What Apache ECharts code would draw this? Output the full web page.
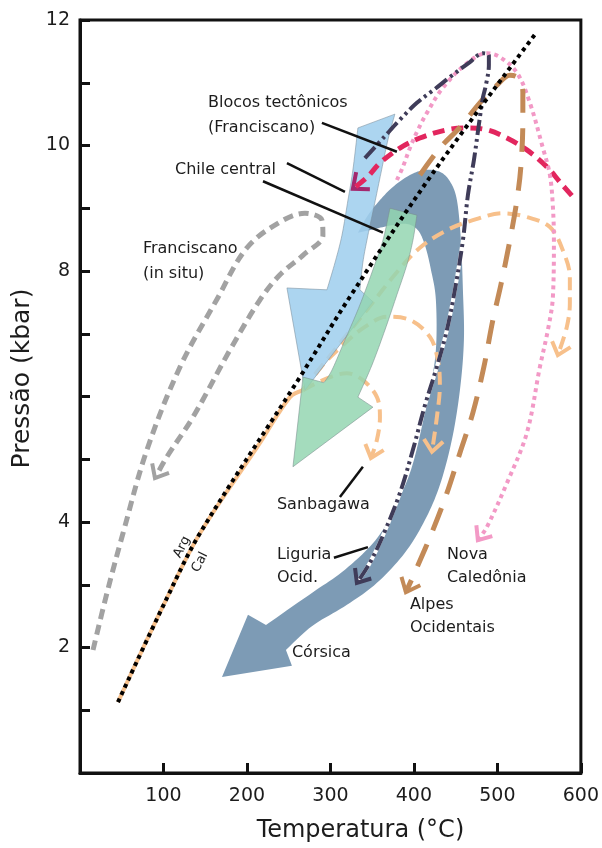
<!DOCTYPE html>
<html>
<head>
<meta charset="utf-8">
<script src="https://cdn.jsdelivr.net/npm/echarts@6/dist/echarts.min.js"></script>
<style>
  html, body { margin: 0; padding: 0; background: #fff; }
  #chart { width: 602px; height: 848px; }
</style>
</head>
<body>
<div id="chart"></div>
<script>
// Trajetórias P–T de cinturões de alta pressão (T em °C, P em kbar)

const xTickLabels = [100, 200, 300, 400, 500, 600];
const yTickLabels = [2, 4, 8, 10, 12];

// Curva aragonita / calcita
const argCal = [[45.5,1.13],[104.2,2.79],[143.7,3.82],[263.5,6.31],[323.4,7.59],[422.7,9.56],[547.3,11.81]];

// Franciscano (in situ)
const franciscanoInSitu = [[15.6,1.96],[32.3,2.87],[51.5,3.82],[80.2,5.15],[119.8,6.47],[164.1,7.55],[200.0,8.37],
  [239.5,8.78],[269.5,8.92],[289.8,8.81],[291.0,8.57],[267.0,8.25],[239.5,7.94],[215.6,7.54],[179.6,6.74],
  [135.3,5.67],[104.2,5.04],[89.8,4.70]];

// Sanbagawa: trecho progressivo comum e três laços retrógrados
const sanbagawaTrunk = [[45.5,1.13],[104.2,2.79],[143.7,3.82],[215.6,5.26],[251.5,5.99],[267.1,6.10]];
const sanbagawaLow = [[267.1,6.10],[295.8,6.29],[319.8,6.37],[338.9,6.26],[355.7,5.99],[359.3,5.67],[355.7,5.31],[348.5,5.02]];
const sanbagawaMid = [[267.1,6.10],[289.8,6.49],[315.0,6.82],[341.3,7.11],[367.7,7.27],[395.2,7.22],[419.2,6.95],
  [428.7,6.58],[431.1,6.18],[427.5,5.67],[421.6,5.12]];
const sanbagawaHigh = [[267.1,6.10],[311.4,6.85],[343.7,7.38],[379.6,7.98],[407.2,8.37],[439.5,8.65],[470.6,8.81],
  [506.6,8.92],[535.3,8.86],[562.9,8.70],[578.4,8.33],[586.8,7.90],[586.8,7.49],[583.2,7.11],[572.4,6.66]];

// Liguria ocidental
const liguria = [[341.3,9.80],[365.3,10.15],[383.2,10.41],[403.6,10.68],[425.1,10.90],[443.1,11.09],[467.1,11.33],
  [482.6,11.47],[489.8,11.44],[489.8,11.28],[486.2,10.96],[482.6,10.76],[477.8,10.33],[471.9,9.77],[464.7,9.21],
  [458.7,8.49],[449.1,7.70],[439.5,7.06],[427.5,6.47],[413.2,5.86],[398.8,5.15],[383.2,4.46],[364.1,3.82],
  [347.3,3.35],[331.7,3.03]];

// Nova Caledônia
const novaCaledonia = [[379.6,9.45],[386.8,9.66],[395.2,9.96],[404.8,10.25],[415.6,10.52],[434.7,10.92],[463.5,11.31],
  [487.4,11.47],[503.0,11.41],[523.4,11.16],[538.9,10.68],[554.5,9.96],[562.9,9.53],[566.5,9.02],[567.7,8.49],
  [566.5,7.59],[560.5,7.06],[550.9,6.47],[535.3,5.42],[511.4,4.62],[487.4,3.92],[476.6,3.71]];

// Blocos tectônicos (Franciscano)
const blocosTectonicos = [[589.2,9.20],[574.8,9.42],[559.3,9.66],[535.3,9.93],[511.4,10.12],[487.4,10.25],[463.5,10.28],
  [439.5,10.25],[407.2,10.12],[383.2,9.96],[359.3,9.72],[343.7,9.49],[326.9,9.31]];

// Alpes Ocidentais
const alpesOcidentais = [[407.2,9.53],[431.1,9.96],[455.1,10.29],[479.0,10.68],[499.4,10.96],[515.0,11.12],[524.5,11.08],
  [530.5,10.85],[530.5,10.41],[528.1,9.66],[523.4,9.13],[515.0,8.49],[504.2,7.78],[494.6,7.22],[483.8,6.47],
  [470.6,5.74],[455.1,5.10],[439.5,4.46],[422.7,3.87],[404.8,3.31],[390.4,2.88]];

// Faixas largas: borda de um lado, ponta da seta, borda do outro lado
const blueBandLeft = [[332.9,10.28],[326.9,9.61],[321.0,9.13],[313.8,8.57],[305.4,8.13],[295.8,7.70]];
const blueBandHead = [[247.9,7.73],[269.5,6.10],[350.9,7.51]];
const blueBandRight = [[335.3,7.70],[338.9,8.14],[344.9,8.57],[352.1,9.02],[360.5,9.56],[368.9,10.09],[377.2,10.50]];

const greenBandLeft = [[371.3,9.00],[362.9,8.49],[350.9,8.02],[335.3,7.46],[317.4,6.90],[301.8,6.42],[292.2,6.22]];
const greenBandHead = [[267.1,6.31],[255.1,4.88],[350.9,5.83]];
const greenBandRight = [[332.9,5.99],[349.7,6.50],[365.3,7.06],[379.6,7.62],[391.6,8.10],[398.8,8.49],[403.6,8.89]];

const corsicaOuter = [[332.9,8.61],[344.9,8.89],[359.3,9.13],[374.8,9.34],[395.2,9.53],[413.2,9.61],[431.1,9.58],
  [443.1,9.43],[451.5,9.13],[456.3,8.49],[458.7,7.70],[459.9,6.90],[455.1,6.10],[445.5,5.31],[431.1,4.59],
  [413.2,4.03],[389.2,3.51],[355.7,3.03],[319.8,2.68],[277.8,2.34],[246.7,1.96]];
const corsicaHead = [[253.9,1.71],[170.1,1.53],[201.2,2.52]];
const corsicaInner = [[222.8,2.36],[277.8,2.87],[317.4,3.24],[356.9,3.76],[383.2,4.40],[400.0,4.99],[418.0,6.06],
  [426.3,6.74],[426.3,7.54],[420.4,8.02],[413.2,8.41],[404.8,8.65],[391.6,8.75],[373.7,8.73],[353.3,8.67]];

// Rótulos e linhas de chamada
const annotationTexts = ['Blocos tectônicos', '(Franciscano)', 'Chile central', 'Franciscano', '(in situ)',
  'Sanbagawa', 'Liguria', 'Ocid.', 'Córsica', 'Nova', 'Caledônia', 'Alpes', 'Ocidentais'];
const annotationAt = [[153.3,10.68],[153.3,10.28],[113.8,9.61],[75.4,8.35],[75.4,7.95],[235.9,4.27],[235.9,3.47],
  [235.9,3.11],[253.9,1.91],[439.5,3.47],[439.5,3.11],[395.2,2.68],[395.2,2.31]];
const leaderLines = [[289.8,10.36,379.6,9.90],[247.9,9.72,317.4,9.26],[219.2,9.43,362.9,8.61],
  [311.4,4.40,338.9,4.88],[304.2,3.43,344.9,3.60]];
const argCalTexts = ['Arg', 'Cal'];
const argCalAt = [[122.2,3.60],[143.7,3.36]];

const FONT = '"DejaVu Sans", sans-serif';
const INK = '#1c1c1c';

function spline(pts, n) {
  if (pts.length < 3) return pts.slice();
  const out = [];
  for (let i = 0; i < pts.length - 1; i++) {
    const p0 = pts[Math.max(i - 1, 0)], p1 = pts[i], p2 = pts[i + 1], p3 = pts[Math.min(i + 2, pts.length - 1)];
    for (let k = 0; k < n; k++) {
      const t = k / n, t2 = t * t, t3 = t2 * t;
      out.push([0, 1].map(d => 0.5 * (2 * p1[d] + (-p0[d] + p2[d]) * t +
        (2 * p0[d] - 5 * p1[d] + 4 * p2[d] - p3[d]) * t2 +
        (-p0[d] + 3 * p1[d] - 3 * p2[d] + p3[d]) * t3)));
    }
  }
  out.push(pts[pts.length - 1]);
  return out;
}

function bandSeries(sideA, head, sideB, style, z) {
  return {
    type: 'custom', silent: true, z, animation: false,
    data: [[sideA[0][0], sideA[0][1]]],
    renderItem(params, api) {
      const px = p => api.coord(p);
      const points = spline(sideA.map(px), 10).concat(head.map(px), spline(sideB.map(px), 10));
      return { type: 'polygon', shape: { points }, style };
    }
  };
}

function lineSeries(data, color, width, dash, z, cap) {
  return {
    type: 'line', data, symbol: 'none', smooth: 0.35, silent: true, z, animation: false,
    lineStyle: { color, width, type: dash, cap: cap || 'butt', join: 'round' }
  };
}

function chevronSeries(path, color, width, len, z) {
  const a = path[path.length - 2], b = path[path.length - 1];
  return {
    type: 'custom', silent: true, z, animation: false,
    data: [[a[0], a[1], b[0], b[1]]],
    encode: { x: [0, 2], y: [1, 3] },
    renderItem(params, api) {
      const p0 = api.coord([api.value(0), api.value(1)]);
      const p1 = api.coord([api.value(2), api.value(3)]);
      const ang = Math.atan2(p0[1] - p1[1], p0[0] - p1[0]);
      const s = 0.7;
      const w1 = [p1[0] + len * Math.cos(ang + s), p1[1] + len * Math.sin(ang + s)];
      const w2 = [p1[0] + len * Math.cos(ang - s), p1[1] + len * Math.sin(ang - s)];
      return { type: 'polyline', shape: { points: [w1, p1, w2] },
        style: { stroke: color, lineWidth: width, fill: null, lineJoin: 'miter', lineCap: 'butt' } };
    }
  };
}

const peach = '#f7c08b';
const series = [
  bandSeries(corsicaOuter, corsicaHead, corsicaInner, { fill: '#7d9bb5' }, 1),
  lineSeries(sanbagawaTrunk, peach, 4, 'solid', 2),
  lineSeries(sanbagawaLow, peach, 4, [13, 7], 2),
  lineSeries(sanbagawaMid, peach, 4, [13, 7], 2),
  lineSeries(sanbagawaHigh, peach, 4, [13, 7], 2),
  chevronSeries(sanbagawaLow, peach, 4, 15, 2),
  chevronSeries(sanbagawaMid, peach, 4, 15, 2),
  chevronSeries(sanbagawaHigh, peach, 4, 15, 2),
  bandSeries(blueBandLeft, blueBandHead, blueBandRight,
    { fill: 'rgba(160,207,238,0.88)', stroke: 'rgba(120,140,155,0.55)', lineWidth: 1 }, 3),
  bandSeries(greenBandLeft, greenBandHead, greenBandRight,
    { fill: 'rgba(146,213,176,0.84)', stroke: 'rgba(120,140,140,0.55)', lineWidth: 1 }, 4),
  lineSeries(franciscanoInSitu, '#a2a2a2', 5, [10, 6], 5),
  chevronSeries(franciscanoInSitu, '#a2a2a2', 4, 15, 5),
  lineSeries(blocosTectonicos, '#e2265e', 5, [12, 7], 5),
  chevronSeries(blocosTectonicos, '#a4286e', 4, 17, 5),
  lineSeries(novaCaledonia, '#f299c6', 4, [4, 4], 5),
  chevronSeries(novaCaledonia, '#f39ac6', 4, 15, 5),
  lineSeries(alpesOcidentais, '#c38a57', 5, [24, 15], 5),
  chevronSeries(alpesOcidentais, '#c38a57', 4, 16, 5),
  lineSeries(liguria.slice(15), '#ffffff', 4, 'solid', 6),
  lineSeries(liguria, '#3f3c59', 4, [15, 4, 3, 4, 3, 4], 7),
  chevronSeries(liguria, '#3f3c59', 4, 15, 7),
  lineSeries(argCal, '#000000', 4, [4, 4], 8),
  {
    type: 'custom', silent: true, z: 9, animation: false,
    data: leaderLines,
    encode: { x: [0, 2], y: [1, 3] },
    renderItem(params, api) {
      const p0 = api.coord([api.value(0), api.value(1)]);
      const p1 = api.coord([api.value(2), api.value(3)]);
      return { type: 'line', shape: { x1: p0[0], y1: p0[1], x2: p1[0], y2: p1[1] },
        style: { stroke: '#111', lineWidth: 2.5 } };
    }
  },
  {
    type: 'custom', silent: true, z: 10, animation: false,
    data: annotationAt.map((p, i) => [p[0], p[1], i]),
    renderItem(params, api) {
      const p = api.coord([api.value(0), api.value(1)]);
      return { type: 'text', x: p[0], y: p[1],
        style: { text: annotationTexts[api.value(2)], fill: INK, font: '16px ' + FONT,
          align: 'left', verticalAlign: 'middle' } };
    }
  },
  {
    type: 'custom', silent: true, z: 10, animation: false,
    data: argCalAt.map((p, i) => [p[0], p[1], i]),
    renderItem(params, api) {
      const p = api.coord([api.value(0), api.value(1)]);
      return { type: 'text', x: p[0], y: p[1], rotation: 63 * Math.PI / 180,
        style: { text: argCalTexts[api.value(2)], fill: INK, font: '13px ' + FONT,
          align: 'center', verticalAlign: 'middle' } };
    }
  }
];

const chart = echarts.init(document.getElementById('chart'), null, { renderer: 'canvas' });
chart.setOption({
  animation: false,
  backgroundColor: '#ffffff',
  grid: { left: 80, right: 21, top: 20, bottom: 75, show: true, borderColor: '#111', borderWidth: 3,
    backgroundColor: 'transparent' },
  xAxis: {
    type: 'value', min: 0, max: 600, interval: 100,
    axisLine: { show: true, onZero: false, lineStyle: { color: '#111', width: 3 } },
    axisTick: { show: true, inside: true, length: 10, lineStyle: { color: '#111', width: 3 } },
    axisLabel: { fontSize: 19, color: INK, fontFamily: FONT, margin: 14,
      formatter: v => (xTickLabels.includes(v) ? String(v) : '') },
    splitLine: { show: false },
    name: 'Temperatura (°C)', nameLocation: 'middle', nameGap: 46,
    nameTextStyle: { fontSize: 24, color: INK, fontFamily: FONT, padding: [0, 0, 0, 60] }
  },
  yAxis: {
    type: 'value', min: 0, max: 12, interval: 1,
    axisLine: { show: true, onZero: false, lineStyle: { color: '#111', width: 3 } },
    axisTick: { show: true, inside: true, length: 10, lineStyle: { color: '#111', width: 3 } },
    axisLabel: { fontSize: 19, color: INK, fontFamily: FONT, margin: 10,
      formatter: v => (yTickLabels.includes(v) ? String(v) : '') },
    splitLine: { show: false },
    name: 'Pressão (kbar)', nameLocation: 'middle', nameGap: 40,
    nameTextStyle: { fontSize: 25, color: INK, fontFamily: FONT, padding: [0, 0, 0, 36] }
  },
  series
});
</script>
</body>
</html>
